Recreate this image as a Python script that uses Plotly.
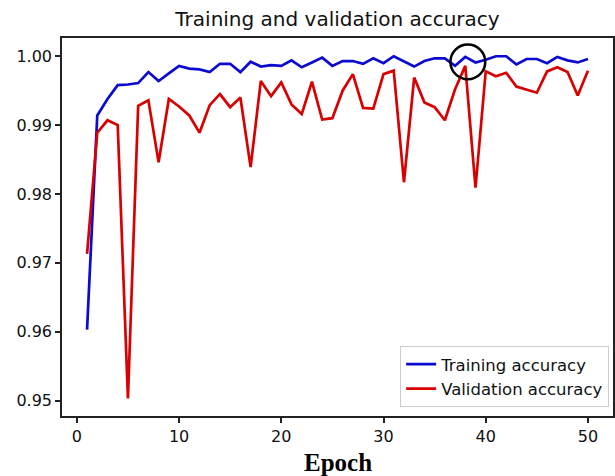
import plotly.graph_objects as go

epochs = list(range(1, 51))
train_acc = [0.9603, 0.9914, 0.9938, 0.9958, 0.9959, 0.9961, 0.9977, 0.9964, 0.9975, 0.9986,
             0.9982, 0.9981, 0.9977, 0.9989, 0.9989, 0.9977, 0.9992, 0.9985, 0.9987, 0.9986,
             0.9994, 0.9984, 0.9991, 0.9998, 0.9986, 0.9993, 0.9993, 0.9989, 0.9997, 0.9990,
             1.0000, 0.9993, 0.9985, 0.9993, 0.9997, 0.9997, 0.9986, 0.9999, 0.9991, 0.9995,
             1.0000, 1.0000, 0.9988, 0.9996, 0.9996, 0.9990, 0.9999, 0.9994, 0.9991, 0.9996]
val_acc = [0.9713, 0.9889, 0.9907, 0.9900, 0.9503, 0.9928, 0.9936, 0.9846, 0.9938, 0.9927,
           0.9914, 0.9889, 0.9929, 0.9945, 0.9926, 0.9940, 0.9839, 0.9964, 0.9942, 0.9962,
           0.9930, 0.9916, 0.9963, 0.9908, 0.9910, 0.9950, 0.9974, 0.9925, 0.9924, 0.9974,
           0.9979, 0.9817, 0.9969, 0.9933, 0.9926, 0.9907, 0.9952, 0.9986, 0.9809, 0.9978,
           0.9971, 0.9976, 0.9956, 0.9951, 0.9947, 0.9978, 0.9984, 0.9977, 0.9943, 0.9979]

x_ticks = [0, 10, 20, 30, 40, 50]
y_ticks = [0.95, 0.96, 0.97, 0.98, 0.99, 1.00]
y_tick_labels = ["0.95", "0.96", "0.97", "0.98", "0.99", "1.00"]

# highlight circle (data units)
circle_cx, circle_cy = 38.25, 0.99918
circle_rx, circle_ry = 1.70, 0.00253

fig = go.Figure()
fig.add_trace(go.Scatter(x=epochs, y=train_acc, mode="lines", name="Training accuracy",
                         line=dict(color="#0a0ad0", width=2.7)))
fig.add_trace(go.Scatter(x=epochs, y=val_acc, mode="lines", name="Validation accuracy",
                         line=dict(color="#d80000", width=2.7)))

fig.add_shape(type="circle", xref="x", yref="y",
              x0=circle_cx - circle_rx, x1=circle_cx + circle_rx,
              y0=circle_cy - circle_ry, y1=circle_cy + circle_ry,
              line=dict(color="black", width=2.5))

axis_common = dict(showline=True, linecolor="#222", linewidth=1.5, mirror=True,
                   ticks="outside", ticklen=5, tickwidth=1.5, tickcolor="#222",
                   showgrid=False, zeroline=False, automargin=False,
                   tickfont=dict(family="DejaVu Sans", size=16, color="#111"))

fig.update_layout(
    width=615, height=476,
    margin=dict(l=62, r=2, t=38, b=60, autoexpand=False),
    paper_bgcolor="white", plot_bgcolor="white",
    title=dict(text="Training and validation accuracy", x=0.5, xanchor="center", xref="paper",
               y=1 - 19 / 476, yanchor="middle",
               font=dict(family="DejaVu Sans", size=20, color="#111")),
    xaxis=dict(range=[-1.45, 52.45], tickvals=x_ticks, **axis_common),
    yaxis=dict(range=[0.94775, 1.00265], tickvals=y_ticks, ticktext=y_tick_labels, **axis_common),
    legend=dict(x=0.993, y=0.024, xanchor="right", yanchor="bottom",
                bgcolor="white", bordercolor="#cccccc", borderwidth=1,
                font=dict(family="DejaVu Sans", size=16.5, color="#111"),
                itemwidth=30, tracegroupgap=0),
    showlegend=True,
)

fig.add_annotation(text="<b>Epoch</b>", xref="paper", yref="paper", x=0.5, y=-0.124,
                   xanchor="center", yanchor="middle", showarrow=False,
                   font=dict(family="Liberation Serif", size=25, color="black"))

fig.write_html("out.html", config={"displayModeBar": False},
               post_script="document.body.style.margin='0';document.body.style.padding='0';")
